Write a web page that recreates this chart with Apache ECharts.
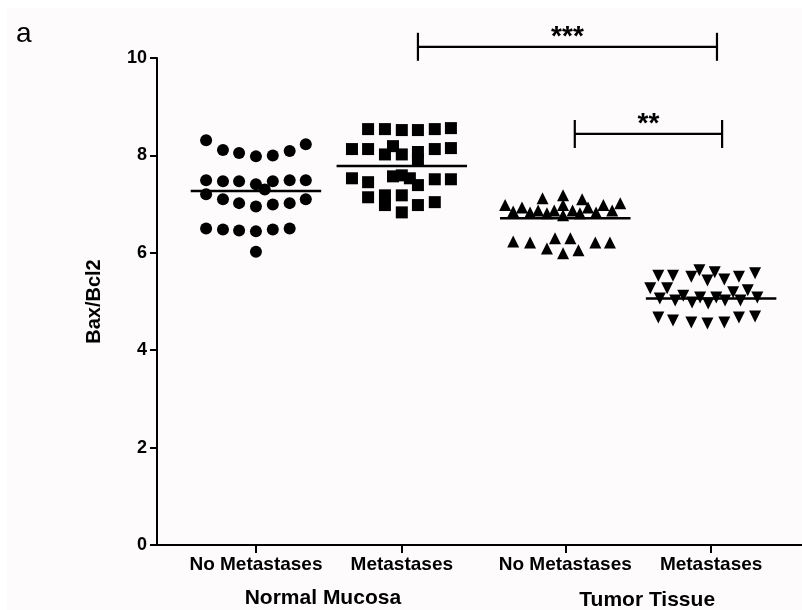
<!DOCTYPE html>
<html><head><meta charset="utf-8">
<script src="https://cdn.jsdelivr.net/npm/echarts@6/dist/echarts.min.js"></script>
<style>html,body{margin:0;padding:0;background:#fff}#c{width:802px;height:610px}</style>
</head><body><div id="c"></div>
<script>
// ---- data ----
const categories = ['No Metastases', 'Metastases', 'No Metastases', 'Metastases'];
const groupNames = ['Normal Mucosa', 'Tumor Tissue'];
const groupPos = [0.675, 1.67, 2.785, 3.78];
const yTicks = [0, 2, 4, 6, 8, 10];

// Normal mucosa, no metastases (circles)
const nmNoMetJitter = [-0.34,-0.225,-0.115,0,0.115,0.23,0.34, -0.34,-0.225,-0.115,0,0.115,0.23,0.34,0.06, -0.34,-0.225,-0.115,0,0.115,0.23,0.34, -0.34,-0.225,-0.115,0,0.115,0.23, 0];
const nmNoMetValues = [8.31,8.11,8.05,7.98,8.00,8.09,8.23, 7.49,7.47,7.47,7.41,7.47,7.49,7.49,7.30, 7.20,7.10,7.02,6.95,6.99,7.02,7.10, 6.50,6.48,6.46,6.44,6.48,6.50, 6.02];
// Normal mucosa, metastases (squares)
const nmMetJitter = [-0.23,-0.115,0,0.11,0.225,0.335, -0.34,-0.23,-0.115,-0.06,0,0.11,0.11,0.225,0.335, -0.34,-0.23,-0.06,0,0.055,0.11,0.225,0.335, -0.23,-0.115,-0.115,0,0,0.11,0.225];
const nmMetValues = [8.54,8.54,8.52,8.52,8.54,8.56, 8.13,8.13,8.02,8.19,8.02,8.07,7.90,8.13,8.15, 7.53,7.45,7.57,7.59,7.53,7.39,7.51,7.51, 7.14,7.18,6.98,7.18,6.83,6.98,7.04];
// Tumor tissue, no metastases (triangles)
const ttNoMetJitter = [-0.41,-0.355,-0.295,-0.24,-0.155,-0.185,-0.125,-0.075,-0.015,-0.015,0.05,0.1,0.115,0.155,0.21,0.26,0.32,0.375,-0.015, -0.355,-0.24,-0.125,-0.07,-0.015,0.035,0.09,0.205,0.305];
const ttNoMetValues = [6.98,6.85,6.93,6.83,7.12,6.87,6.81,6.87,7.18,6.98,6.87,6.81,7.10,6.93,6.83,6.98,6.87,7.02,6.77, 6.23,6.21,6.09,6.30,5.99,6.30,6.05,6.21,6.21];
// Tumor tissue, metastases (inverted triangles)
const ttMetJitter = [-0.36,-0.26,-0.135,-0.08,-0.025,0.025,0.09,0.19,0.3, -0.415,-0.3,-0.35,-0.245,-0.19,-0.13,-0.075,-0.02,0.035,0.095,0.15,0.2,0.25,0.315, -0.36,-0.26,-0.135,-0.025,0.09,0.19,0.3];
const ttMetValues = [5.53,5.53,5.51,5.64,5.43,5.60,5.45,5.51,5.58, 5.27,5.27,5.06,5.02,5.12,4.98,5.08,4.96,5.08,5.02,5.19,5.02,5.23,5.08, 4.67,4.61,4.57,4.55,4.57,4.67,4.69];

const groupMeans = [7.27, 7.78, 6.71, 5.06];

// significance brackets
const bracketStart = [1.78, 2.85];
const bracketEnd = [3.82, 3.855];
const bracketLevel = [10.23, 8.44];
const bracketText = ['***', '**'];

// ---- chart ----
const FONT = "'Liberation Sans', Arial, sans-serif";
const chart = echarts.init(document.getElementById('c'));

const groups = [
  { j: nmNoMetJitter, v: nmNoMetValues, symbol: 'circle', size: 12, rot: 0 },
  { j: nmMetJitter, v: nmMetValues, symbol: 'rect', size: 12, rot: 0 },
  { j: ttNoMetJitter, v: ttNoMetValues, symbol: 'triangle', size: 12, rot: 0 },
  { j: ttMetJitter, v: ttMetValues, symbol: 'triangle', size: 12, rot: 180 }
];

const series = groups.map((g, gi) => ({
  type: 'scatter',
  symbol: g.symbol,
  symbolSize: g.size,
  symbolRotate: g.rot,
  itemStyle: { color: '#000', opacity: 1 },
  emphasis: { disabled: true },
  data: g.v.map((val, i) => [groupPos[gi] + g.j[i], val]),
  z: 2
}));

series.push({
  type: 'custom',
  data: groupPos.map((p, i) => [p, groupMeans[i]]),
  renderItem: function (params, api) {
    const c = api.coord([api.value(0), api.value(1)]);
    const half = api.size([0.445, 0])[0];
    return { type: 'line', shape: { x1: c[0] - half, y1: c[1], x2: c[0] + half, y2: c[1] },
      style: { stroke: '#000', lineWidth: 2.5 } };
  },
  z: 3
});

series.push({
  type: 'custom',
  clip: false,
  data: bracketStart.map((s, i) => [s, bracketEnd[i], bracketLevel[i], i]),
  renderItem: function (params, api) {
    const a = api.coord([api.value(0), api.value(2)]);
    const b = api.coord([api.value(1), api.value(2)]);
    const cap = 14;
    const idx = api.value(3);
    const st = { stroke: '#000', lineWidth: 2.2 };
    return { type: 'group', children: [
      { type: 'line', shape: { x1: a[0], y1: a[1], x2: b[0], y2: b[1] }, style: st },
      { type: 'line', shape: { x1: a[0], y1: a[1] - cap, x2: a[0], y2: a[1] + cap }, style: st },
      { type: 'line', shape: { x1: b[0], y1: b[1] - cap, x2: b[0], y2: b[1] + cap }, style: st },
      { type: 'text', x: (a[0] + b[0]) / 2, y: a[1] - 10,
        style: { text: bracketText[idx], font: 'bold 28px ' + FONT, fill: '#000', align: 'center', verticalAlign: 'middle' } }
    ] };
  },
  z: 4
});

chart.setOption({
  backgroundColor: '#fdfbfb',
  animation: false,
  grid: { left: 157, right: 0, top: 58, bottom: 65, containLabel: false },
  xAxis: {
    type: 'value', min: 0, max: 4.4,
    splitLine: { show: false },
    axisLine: { lineStyle: { color: '#000', width: 2 } },
    axisTick: { customValues: groupPos, length: 8, lineStyle: { color: '#000', width: 2 } },
    axisLabel: {
      customValues: groupPos, margin: 10,
      fontFamily: FONT, fontWeight: 'bold', fontSize: 19, color: '#000',
      formatter: function (v) {
        let best = 0;
        groupPos.forEach((p, i) => { if (Math.abs(p - v) < Math.abs(groupPos[best] - v)) best = i; });
        return categories[best];
      }
    }
  },
  yAxis: {
    type: 'value', min: yTicks[0], max: yTicks[yTicks.length - 1], interval: 2,
    name: 'Bax/Bcl2', nameLocation: 'middle', nameGap: 53,
    nameTextStyle: { fontFamily: FONT, fontWeight: 'bold', fontSize: 20, color: '#000' },
    splitLine: { show: false },
    axisLine: { show: true, lineStyle: { color: '#000', width: 2 } },
    axisTick: { show: true, length: 7, lineStyle: { color: '#000', width: 2 } },
    axisLabel: { margin: 10, fontFamily: FONT, fontWeight: 'bold', fontSize: 18, color: '#000' }
  },
  series: series
});

// group labels under category pairs
const g1 = chart.convertToPixel({ xAxisIndex: 0 }, (groupPos[0] + groupPos[1]) / 2);
const g2 = chart.convertToPixel({ xAxisIndex: 0 }, (groupPos[2] + groupPos[3]) / 2);
chart.setOption({
  graphic: [
    { type: 'rect', left: 0, top: 0, shape: { width: 802, height: 8 }, style: { fill: '#fff' }, silent: true },
    { type: 'rect', left: 0, top: 0, shape: { width: 7, height: 610 }, style: { fill: '#fff' }, silent: true },
    { type: 'text', x: 16, y: 34, style: { text: 'a', font: '28px ' + FONT, fill: '#000', verticalAlign: 'middle' } },
    { type: 'text', x: g1 - 6, y: 598, style: { text: groupNames[0], font: 'bold 21px ' + FONT, fill: '#000', align: 'center', verticalAlign: 'middle' } },
    { type: 'text', x: g2 + 9, y: 600, style: { text: groupNames[1], font: 'bold 21px ' + FONT, fill: '#000', align: 'center', verticalAlign: 'middle' } }
  ]
});
</script>
</body></html>
